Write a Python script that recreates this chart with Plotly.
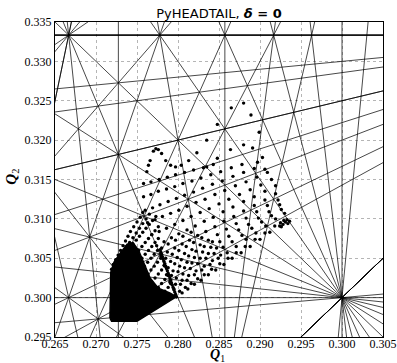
import math
import plotly.graph_objects as go

# ---------------- data ----------------
resonance_orders = list(range(1, 13))          # resonance lines m*Q1 + n*Q2 = p, |m|+|n| <= 12
q1_range = [0.265, 0.305]
q2_range = [0.295, 0.335]
x_ticks = [0.265, 0.270, 0.275, 0.280, 0.285, 0.290, 0.295, 0.300, 0.305]
y_ticks = [0.295, 0.300, 0.305, 0.310, 0.315, 0.320, 0.325, 0.330, 0.335]

# dense core of the footprint (outline)
core_q1 = [0.2717, 0.2719, 0.2750, 0.2798, 0.2790, 0.2776, 0.2766, 0.2758, 0.2752, 0.2745, 0.2738, 0.2730, 0.2722, 0.2718]
core_q2 = [0.2974, 0.2970, 0.2970, 0.3001, 0.3006, 0.3012, 0.3025, 0.3045, 0.3060, 0.3070, 0.3068, 0.3057, 0.3045, 0.3032]

# fold band
fold_q1 = [0.2798, 0.2797, 0.2796, 0.2795, 0.2794, 0.2793, 0.2792, 0.2791, 0.2790, 0.2789, 0.2788,
           0.2787, 0.2786, 0.2785, 0.2784, 0.2783, 0.2782, 0.2781, 0.2780, 0.2779, 0.2778]
fold_q2 = [0.3001, 0.3004, 0.3007, 0.3010, 0.3013, 0.3016, 0.3019, 0.3022, 0.3025, 0.3028, 0.3031,
           0.3034, 0.3037, 0.3040, 0.3043, 0.3046, 0.3049, 0.3052, 0.3055, 0.3058, 0.3061]

# fan rays leaving the core
fan_q1 = [
    [0.2719, 0.2721, 0.2724, 0.2727, 0.2730, 0.2733, 0.2736, 0.2739, 0.2742, 0.2746, 0.2750, 0.2754, 0.2757],
    [0.2733, 0.2737, 0.2741, 0.2745, 0.2749, 0.2753, 0.2757, 0.2761, 0.2765],
    [0.2745, 0.2749, 0.2753, 0.2757, 0.2761, 0.2765, 0.2769, 0.2773],
    [0.2752, 0.2756, 0.2760, 0.2764, 0.2768, 0.2772, 0.2776],
    [0.2756, 0.2760, 0.2764, 0.2768, 0.2772, 0.2776],
    [0.2759, 0.2763, 0.2767, 0.2771, 0.2775],
    [0.2763, 0.2767, 0.2771, 0.2775, 0.2779],
    [0.2768, 0.2772, 0.2776, 0.2780, 0.2784],
    [0.2776, 0.2780, 0.2784, 0.2788],
    [0.2784, 0.2788, 0.2791],
]
fan_q2 = [
    [0.3036, 0.3042, 0.3048, 0.3054, 0.3060, 0.3066, 0.3072, 0.3078, 0.3084, 0.3090, 0.3096, 0.3102, 0.3108],
    [0.3058, 0.3064, 0.3070, 0.3076, 0.3082, 0.3088, 0.3094, 0.3100, 0.3106],
    [0.3068, 0.3073, 0.3078, 0.3083, 0.3088, 0.3093, 0.3098, 0.3103],
    [0.3060, 0.3065, 0.3070, 0.3075, 0.3080, 0.3085, 0.3090],
    [0.3050, 0.3055, 0.3060, 0.3065, 0.3070, 0.3075],
    [0.3040, 0.3045, 0.3050, 0.3055, 0.3060],
    [0.3030, 0.3035, 0.3040, 0.3045, 0.3050],
    [0.3020, 0.3025, 0.3030, 0.3035, 0.3040],
    [0.3013, 0.3018, 0.3023, 0.3028],
    [0.3008, 0.3013, 0.3018],
]

# lattice rows of the sparse part of the footprint
rows_q1 = [
    [0.2798, 0.2805, 0.2812, 0.2820, 0.2828, 0.2837, 0.2846, 0.2856, 0.2866, 0.2877, 0.2888, 0.2900, 0.2912, 0.2924],
    [0.2802, 0.2809, 0.2816, 0.2824, 0.2832, 0.2841, 0.2851, 0.2861, 0.2871, 0.2882, 0.2894, 0.2906, 0.2918],
    [0.2795, 0.2803, 0.2811, 0.2820, 0.2829, 0.2839, 0.2849, 0.2860, 0.2871, 0.2883, 0.2895, 0.2907, 0.2919, 0.2930],
    [0.2797, 0.2805, 0.2813, 0.2822, 0.2832, 0.2842, 0.2852],
    [0.2790, 0.2798, 0.2806, 0.2815, 0.2824, 0.2834, 0.2844, 0.2855, 0.2866, 0.2878, 0.2890, 0.2902, 0.2914, 0.2926],
    [0.2792, 0.2800, 0.2808, 0.2817, 0.2827, 0.2837, 0.2847],
    [0.2786, 0.2794, 0.2802, 0.2811, 0.2820, 0.2830, 0.2840, 0.2851, 0.2862, 0.2874, 0.2886, 0.2898, 0.2911, 0.2924],
    [0.2788, 0.2796, 0.2804, 0.2813, 0.2822, 0.2832, 0.2842],
    [0.2783, 0.2791, 0.2799, 0.2808, 0.2817, 0.2827, 0.2837, 0.2848, 0.2859, 0.2871, 0.2883, 0.2896, 0.2909, 0.2922],
    [0.2785, 0.2793, 0.2801, 0.2810, 0.2819, 0.2829],
    [0.2779, 0.2787, 0.2796, 0.2805, 0.2814, 0.2824, 0.2834, 0.2845, 0.2856, 0.2868, 0.2880, 0.2893, 0.2906, 0.2919],
    [0.2780, 0.2788, 0.2797, 0.2806, 0.2816],
    [0.2774, 0.2783, 0.2792, 0.2801, 0.2811, 0.2821, 0.2832, 0.2843, 0.2855, 0.2867, 0.2880, 0.2893, 0.2906, 0.2919],
    [0.2768, 0.2777, 0.2786, 0.2796, 0.2806, 0.2816, 0.2827, 0.2838, 0.2850, 0.2862, 0.2875, 0.2888, 0.2901, 0.2914],
    [0.2763, 0.2772, 0.2781, 0.2791, 0.2801, 0.2811, 0.2822, 0.2833, 0.2845, 0.2857, 0.2870, 0.2883, 0.2896, 0.2909],
    [0.2760, 0.2769, 0.2778, 0.2788, 0.2798, 0.2808, 0.2819, 0.2830, 0.2842, 0.2854, 0.2867, 0.2880, 0.2893],
    [0.2758, 0.2767, 0.2776, 0.2786, 0.2796, 0.2806, 0.2817, 0.2828, 0.2840, 0.2852, 0.2865, 0.2878],
    [0.2758, 0.2767, 0.2777, 0.2787, 0.2797, 0.2808, 0.2819, 0.2831, 0.2843],
]
rows_q2 = [
    [0.3001, 0.3006, 0.3011, 0.3017, 0.3022, 0.3029, 0.3035, 0.3042, 0.3050, 0.3057, 0.3065, 0.3074, 0.3083, 0.3091],
    [0.3008, 0.3013, 0.3018, 0.3024, 0.3029, 0.3036, 0.3043, 0.3050, 0.3057, 0.3065, 0.3074, 0.3082, 0.3091],
    [0.3011, 0.3017, 0.3022, 0.3029, 0.3035, 0.3042, 0.3050, 0.3057, 0.3065, 0.3074, 0.3082, 0.3091, 0.3100, 0.3107],
    [0.3017, 0.3022, 0.3028, 0.3034, 0.3040, 0.3047, 0.3054],
    [0.3020, 0.3025, 0.3030, 0.3037, 0.3043, 0.3050, 0.3056, 0.3064, 0.3071, 0.3079, 0.3088, 0.3096, 0.3104, 0.3112],
    [0.3028, 0.3033, 0.3038, 0.3044, 0.3050, 0.3056, 0.3063],
    [0.3029, 0.3034, 0.3040, 0.3045, 0.3051, 0.3058, 0.3064, 0.3071, 0.3078, 0.3086, 0.3093, 0.3101, 0.3109, 0.3118],
    [0.3038, 0.3043, 0.3048, 0.3053, 0.3059, 0.3065, 0.3071],
    [0.3041, 0.3046, 0.3051, 0.3056, 0.3061, 0.3067, 0.3073, 0.3080, 0.3087, 0.3094, 0.3101, 0.3109, 0.3117, 0.3124],
    [0.3050, 0.3055, 0.3060, 0.3065, 0.3070, 0.3076],
    [0.3053, 0.3058, 0.3063, 0.3068, 0.3073, 0.3079, 0.3084, 0.3090, 0.3097, 0.3103, 0.3110, 0.3117, 0.3124, 0.3132],
    [0.3063, 0.3068, 0.3073, 0.3078, 0.3083],
    [0.3066, 0.3071, 0.3076, 0.3081, 0.3086, 0.3091, 0.3097, 0.3102, 0.3109, 0.3115, 0.3122, 0.3128, 0.3135, 0.3142],
    [0.3080, 0.3084, 0.3088, 0.3093, 0.3098, 0.3103, 0.3108, 0.3113, 0.3119, 0.3125, 0.3131, 0.3137, 0.3143, 0.3150],
    [0.3095, 0.3099, 0.3103, 0.3107, 0.3111, 0.3116, 0.3121, 0.3125, 0.3131, 0.3136, 0.3142, 0.3147, 0.3153, 0.3159],
    [0.3111, 0.3114, 0.3118, 0.3122, 0.3126, 0.3130, 0.3134, 0.3139, 0.3144, 0.3148, 0.3154, 0.3159, 0.3164],
    [0.3128, 0.3131, 0.3135, 0.3138, 0.3141, 0.3145, 0.3148, 0.3152, 0.3156, 0.3160, 0.3165, 0.3169],
    [0.3145, 0.3147, 0.3150, 0.3153, 0.3156, 0.3159, 0.3162, 0.3165, 0.3169],
]

# outer / scattered particles
outer_q1 = [0.2770, 0.2773, 0.2776, 0.2780, 0.2766, 0.2764, 0.2785, 0.2791, 0.2797, 0.2804, 0.2813, 0.2823,
            0.2865, 0.2880, 0.2889, 0.2848, 0.2899, 0.2835, 0.2880, 0.2864, 0.2891, 0.2903, 0.2848, 0.2897,
            0.2906, 0.2835, 0.2762,
            0.2925, 0.2928, 0.2931, 0.2934, 0.2929, 0.2933, 0.2926, 0.2936]
outer_q2 = [0.3186, 0.3189, 0.3188, 0.3183, 0.3174, 0.3168, 0.3174, 0.3168, 0.3166, 0.3168, 0.3174, 0.3184,
            0.3241, 0.3247, 0.3232, 0.3220, 0.3210, 0.3200, 0.3194, 0.3188, 0.3190, 0.3178, 0.3177, 0.3172,
            0.3163, 0.3166, 0.3160,
            0.3095, 0.3093, 0.3096, 0.3094, 0.3098, 0.3099, 0.3090, 0.3097]

# ---------------- figure ----------------
fig = go.Figure()

# resonance lines
max_order = max(resonance_orders)
lx, ly = [], []
x0, x1 = q1_range
y0, y1 = q2_range
for m in range(-max_order, max_order + 1):
    for n in range(0, max_order + 1):
        if m == 0 and n == 0:
            continue
        if abs(m) + abs(n) > max_order:
            continue
        if n == 0 and m < 0:
            continue
        vals = [m * a + n * b for a in (x0, x1) for b in (y0, y1)]
        for p in range(math.ceil(min(vals)), math.floor(max(vals)) + 1):
            if n == 0:
                xv = p / m
                lx += [xv, xv, None]
                ly += [y0 - 0.01, y1 + 0.01, None]
            elif abs(m) > abs(n):
                ya, yb = y0 - 0.01, y1 + 0.01
                lx += [(p - n * ya) / m, (p - n * yb) / m, None]
                ly += [ya, yb, None]
            else:
                xa, xb = x0 - 0.01, x1 + 0.01
                lx += [xa, xb, None]
                ly += [(p - m * xa) / n, (p - m * xb) / n, None]

fig.add_trace(go.Scatter(x=lx, y=ly, mode="lines",
                         line=dict(color="rgba(0,0,0,0.8)", width=0.9),
                         hoverinfo="skip", showlegend=False))

# footprint core
fig.add_trace(go.Scatter(x=core_q1 + [core_q1[0]], y=core_q2 + [core_q2[0]], mode="lines",
                         fill="toself", fillcolor="black", line=dict(color="black", width=1.5),
                         hoverinfo="skip", showlegend=False))

pts_x = fold_q1 + outer_q1
pts_y = fold_q2 + outer_q2
for rx, ry in zip(fan_q1 + rows_q1, fan_q2 + rows_q2):
    pts_x += rx
    pts_y += ry

fig.add_trace(go.Scatter(x=pts_x, y=pts_y, mode="markers",
                         marker=dict(color="black", size=3.4, line=dict(width=0)),
                         showlegend=False))

axis_common = dict(
    showgrid=True, gridcolor="#b5b5b5", gridwidth=0.8, griddash="3px,3px",
    zeroline=False, showline=True, linecolor="black", linewidth=1.2, mirror=True,
    ticks="", automargin=False,
    tickfont=dict(family="Liberation Serif", size=12, color="black"),
    tickformat=".3f",
)

fig.update_layout(
    width=397, height=363,
    margin=dict(l=55, r=14, t=22, b=26),
    plot_bgcolor="white", paper_bgcolor="white",
    title=dict(text="PyHEADTAIL, <b><i>δ</i> = 0</b>", x=0.5516, xanchor="center",
               y=0.963, yanchor="middle", yref="container",
               font=dict(family="DejaVu Sans", size=13, color="black")),
    xaxis=dict(range=q1_range, tickvals=x_ticks, ticklabelstandoff=-5, **axis_common),
    yaxis=dict(range=q2_range, tickvals=y_ticks, **axis_common),
    annotations=[
        dict(text="<b><i>Q</i></b><sub>1</sub>", xref="paper", yref="paper",
             x=0.494, y=-0.058, xanchor="center", yanchor="middle", showarrow=False,
             font=dict(family="Liberation Serif", size=14, color="black")),
        dict(text="<b><i>Q</i></b><sub>2</sub>", xref="paper", yref="paper",
             x=-0.13, y=0.51, xanchor="center", yanchor="middle", showarrow=False,
             textangle=-90, font=dict(family="Liberation Serif", size=15, color="black")),
    ],
)

fig.write_html("out.html")
